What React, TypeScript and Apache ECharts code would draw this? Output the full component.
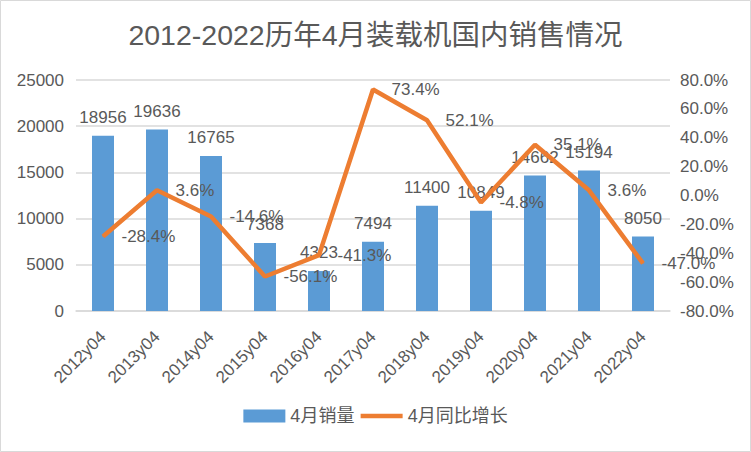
import React, { useEffect, useRef } from "react";
import * as echarts from "echarts";

const categories = ["2012y04", "2013y04", "2014y04", "2015y04", "2016y04", "2017y04", "2018y04", "2019y04", "2020y04", "2021y04", "2022y04"];
const sales = [18956, 19636, 16765, 7368, 4323, 7494, 11400, 10849, 14662, 15194, 8050];
const growth = [-28.4, 3.6, -14.6, -56.1, -41.3, 73.4, 52.1, -4.8, 35.1, 3.6, -47.0];
const titleText = "2012-2022历年4月装载机国内销售情况";
const salesName = "4月销量";
const growthName = "4月同比增长";

const FONT = "'Liberation Sans', 'Noto Sans CJK SC', sans-serif";
const TXT = "#595959";

export default function App() {
  const ref = useRef<HTMLDivElement>(null);
  useEffect(() => {
    document.body.style.margin = "0";
    const chart = echarts.init(ref.current!, null, { renderer: "svg" });
    chart.setOption({
      animation: false,
      backgroundColor: "#ffffff",
      textStyle: { fontFamily: FONT, color: TXT },
      title: {
        text: titleText,
        left: "center",
        top: 16,
        textStyle: { fontSize: 28.5, fontWeight: "normal", color: TXT, fontFamily: FONT },
      },
      graphic: [
        {
          type: "rect",
          shape: { x: 0.5, y: 0.5, width: 750, height: 451 },
          style: { fill: "none", stroke: "#D9D9D9", lineWidth: 1 },
          silent: true,
        },
      ],
      legend: {
        bottom: 22,
        left: "center",
        itemGap: 4,
        itemWidth: 42,
        itemHeight: 13,
        textStyle: { fontSize: 18, color: TXT, fontFamily: FONT },
        data: [
          { name: salesName, icon: "rect" },
          { name: growthName, itemStyle: { opacity: 0 }, lineStyle: { width: 4.5 } },
        ],
      },
      grid: { left: 76, right: 81, top: 80, bottom: 141 },
      xAxis: {
        type: "category",
        data: categories,
        axisTick: { show: false },
        axisLine: { lineStyle: { color: "#D9D9D9", width: 1.5 } },
        axisLabel: { rotate: 45, fontSize: 17, color: TXT, interval: 0, margin: 23 },
      },
      yAxis: [
        {
          type: "value",
          min: 0,
          max: 25000,
          interval: 5000,
          axisLabel: { fontSize: 17, color: TXT, margin: 12, formatter: (v: number) => String(v) },
          splitLine: { lineStyle: { color: "#D9D9D9", width: 1.5 } },
          axisLine: { show: false },
          axisTick: { show: false },
        },
        {
          type: "value",
          min: -80,
          max: 80,
          interval: 20,
          axisLabel: { fontSize: 17, color: TXT, margin: 10, formatter: (v: number) => v.toFixed(1) + "%" },
          splitLine: { show: false },
          axisLine: { show: false },
          axisTick: { show: false },
        },
      ],
      series: [
        {
          name: salesName,
          type: "bar",
          data: sales,
          barWidth: 22,
          itemStyle: { color: "#5B9BD5" },
          label: { show: true, position: "top", distance: 10, fontSize: 17, color: TXT },
          z: 2,
        },
        {
          name: growthName,
          type: "line",
          yAxisIndex: 1,
          data: growth,
          symbol: "circle",
          symbolSize: 1,
          showSymbol: true,
          lineStyle: { color: "#ED7D31", width: 4.5 },
          itemStyle: { color: "#ED7D31" },
          label: {
            show: true,
            position: "right",
            distance: 18,
            fontSize: 17,
            color: TXT,
            formatter: (p: any) => Number(p.value).toFixed(1) + "%",
          },
          z: 3,
        },
      ],
    });
    return () => chart.dispose();
  }, []);
  return <div ref={ref} style={{ width: 751, height: 452 }} />;
}
